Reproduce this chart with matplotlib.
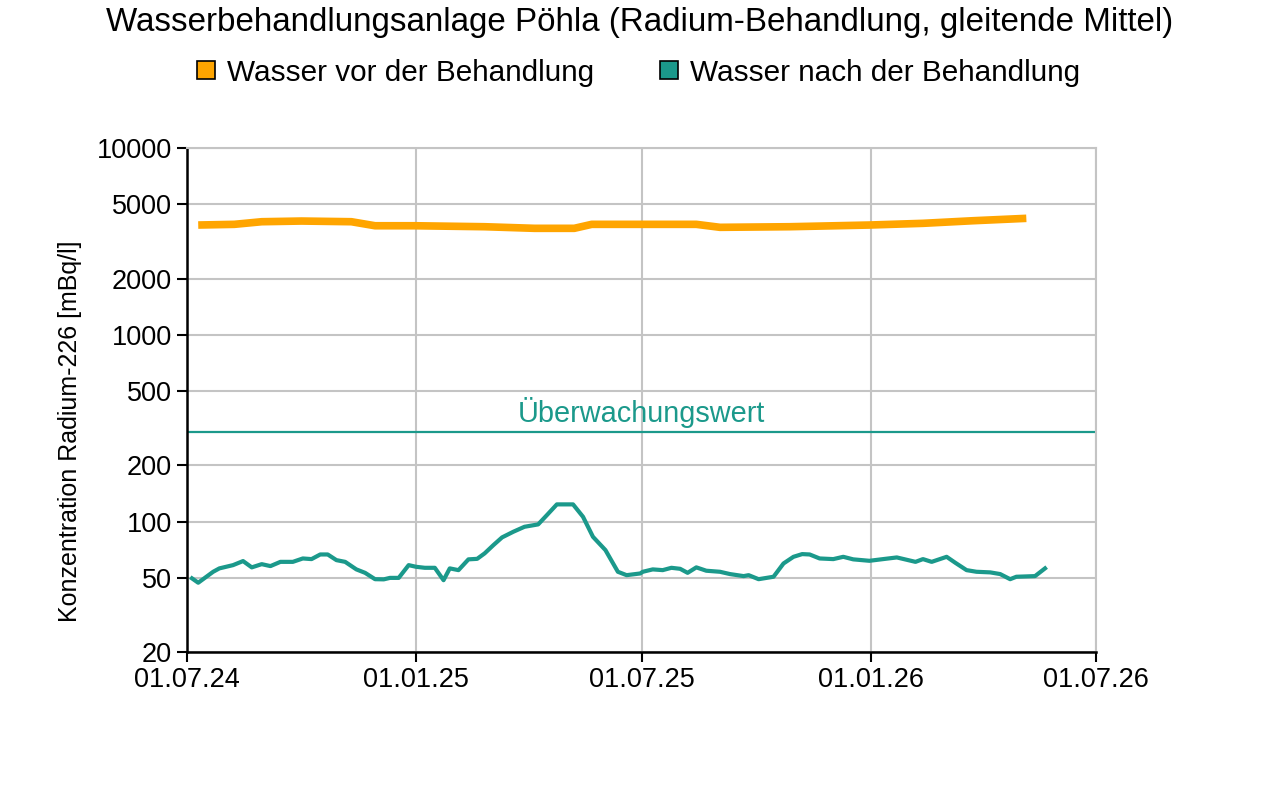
import numpy as np
import pandas as pd
import matplotlib
matplotlib.use("Agg")
import matplotlib.pyplot as plt
import matplotlib.dates as mdates
from matplotlib.lines import Line2D

plt.rcParams['font.family'] = ['Liberation Sans', 'DejaVu Sans']

# Data
vor_dates = ["2024-07-10", "2024-08-08", "2024-08-30", "2024-10-01", "2024-11-10",
             "2024-11-29", "2024-12-31", "2025-02-25", "2025-04-06", "2025-05-08",
             "2025-05-22", "2025-07-04", "2025-08-14", "2025-09-02", "2025-10-28",
             "2025-12-31", "2026-02-12", "2026-03-24", "2026-05-06"]
vor_values = [3869, 3902, 4030, 4064, 4030,
              3835, 3835, 3789, 3715, 3715,
              3902, 3902, 3902, 3761, 3789,
              3869, 3951, 4079, 4202]

nach_dates = ["2024-07-05", "2024-07-10", "2024-07-22", "2024-07-27", "2024-08-07",
              "2024-08-15", "2024-08-22", "2024-08-30", "2024-09-06", "2024-09-14",
              "2024-09-24", "2024-10-02", "2024-10-09", "2024-10-16", "2024-10-22",
              "2024-10-29", "2024-11-05", "2024-11-14", "2024-11-21", "2024-11-29",
              "2024-12-06", "2024-12-11", "2024-12-18", "2024-12-26", "2025-01-01",
              "2025-01-08", "2025-01-16", "2025-01-23", "2025-01-28", "2025-02-04",
              "2025-02-12", "2025-02-19", "2025-02-25", "2025-03-04", "2025-03-11",
              "2025-03-20", "2025-03-29", "2025-04-09", "2025-04-16", "2025-04-24",
              "2025-05-07", "2025-05-15", "2025-05-23", "2025-06-02", "2025-06-12",
              "2025-06-19", "2025-06-30",
              "2025-07-02", "2025-07-10", "2025-07-18", "2025-07-25", "2025-08-01",
              "2025-08-07", "2025-08-14", "2025-08-22", "2025-09-02", "2025-09-10",
              "2025-09-21", "2025-09-25", "2025-10-03", "2025-10-15", "2025-10-23",
              "2025-10-31", "2025-11-07", "2025-11-13", "2025-11-21", "2025-12-02",
              "2025-12-10", "2025-12-18", "2025-12-31", "2026-01-11", "2026-01-22",
              "2026-02-06", "2026-02-12", "2026-02-19", "2026-03-03", "2026-03-10",
              "2026-03-19", "2026-03-27", "2026-04-07", "2026-04-15", "2026-04-23",
              "2026-04-28", "2026-05-13", "2026-05-21"]
nach_values = [49.6, 47.0, 53.8, 56.1, 58.4,
               61.4, 56.8, 59.1, 57.7, 60.8,
               60.8, 63.4, 62.9, 66.6, 66.6,
               62.1, 60.8, 55.4, 53.1, 49.1,
               49.0, 49.9, 49.9, 58.4, 57.2,
               56.5, 56.5, 48.5, 56.1, 54.9,
               62.7, 63.1, 67.5, 74.7, 82.2,
               88.1, 93.7, 96.5, 108.2, 123.5,
               123.5, 106.0, 82.8, 70.3, 53.8,
               51.6, 52.7,
               53.8, 55.4, 54.9, 56.5, 55.8,
               53.1, 56.8, 54.5, 53.8, 52.3,
               51.0, 51.6, 49.1, 50.6, 59.6,
               64.7, 66.9, 66.6, 63.4, 62.9,
               64.7, 62.7, 61.6, 62.9, 64.2,
               60.8, 62.9, 60.8, 64.7, 60.1,
               54.9, 53.8, 53.4, 52.3, 49.1,
               50.6, 51.0, 56.1]

ueberwachungswert = 300
y_ticks = [20, 50, 100, 200, 500, 1000, 2000, 5000, 10000]
x_ticks = ["2024-07-01", "2025-01-01", "2025-07-01", "2026-01-01", "2026-07-01"]

orange = "#ffa500"
teal = "#1b998b"

fig = plt.figure(figsize=(12.8, 7.89), dpi=100)
ax = fig.add_axes([0.1461, 0.1736, 0.7102, 0.6388])

ax.plot(pd.to_datetime(vor_dates), vor_values, color=orange, lw=5.5, solid_capstyle="butt", zorder=3)
ax.plot(pd.to_datetime(nach_dates), nach_values, color=teal, lw=3, zorder=3)
ax.axhline(ueberwachungswert, color=teal, lw=1.6, zorder=2)

ax.set_yscale("log")
ax.set_ylim(20, 10000)
ax.set_xlim(pd.Timestamp(x_ticks[0]), pd.Timestamp(x_ticks[-1]))
ax.set_yticks(y_ticks)
ax.set_yticklabels([str(v) for v in y_ticks])
ax.yaxis.set_minor_locator(matplotlib.ticker.NullLocator())
ax.set_xticks(pd.to_datetime(x_ticks))
ax.xaxis.set_major_formatter(mdates.DateFormatter("%d.%m.%y"))

ax.grid(True, color="#c4c4c4", lw=1.5, zorder=0)
ax.tick_params(axis="both", labelsize=19.5, length=7, width=1.5, colors="black", pad=4)
for s in ["left", "bottom"]:
    ax.spines[s].set_color("black")
    ax.spines[s].set_linewidth(1.8)
for s in ["top", "right"]:
    ax.spines[s].set_color("#c4c4c4")
    ax.spines[s].set_linewidth(1.5)

ax.set_ylabel("Konzentration Radium-226 [mBq/l]", fontsize=18)
ax.yaxis.set_label_coords(-0.116, 0.4385)

mid = pd.Timestamp(x_ticks[0]) + (pd.Timestamp(x_ticks[-1]) - pd.Timestamp(x_ticks[0])) / 2
ax.text(mid, ueberwachungswert * 1.05, "Überwachungswert", color=teal, fontsize=20.8,
        ha="center", va="bottom")

fig.text(0.5, 0.972, "Wasserbehandlungsanlage Pöhla (Radium-Behandlung, gleitende Mittel)",
         ha="center", va="center", fontsize=23.9)

handles = [Line2D([], [], ls="none", marker="s", markersize=13, markerfacecolor=orange,
                  markeredgecolor="black", markeredgewidth=1.2),
           Line2D([], [], ls="none", marker="s", markersize=13, markerfacecolor=teal,
                  markeredgecolor="black", markeredgewidth=1.2)]
fig.legend(handles, ["Wasser vor der Behandlung", "Wasser nach der Behandlung"],
           loc="center", bbox_to_anchor=(0.4965, 0.908), ncol=2, frameon=False,
           fontsize=21.4, handletextpad=0.2, columnspacing=2.03, handlelength=1.0)

fig.savefig("out.png", dpi=100)
